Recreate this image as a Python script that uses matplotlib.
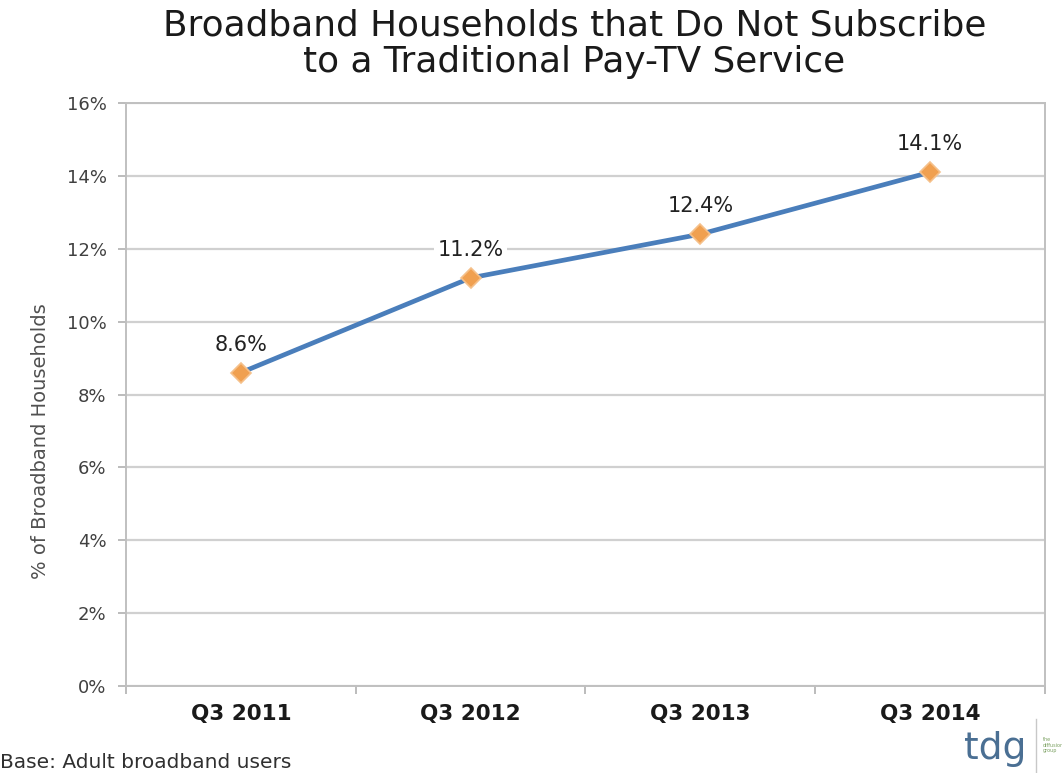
import matplotlib.pyplot as plt
import numpy as np
from matplotlib.ticker import FixedLocator, PercentFormatter

quarters = ["Q3 2011", "Q3 2012", "Q3 2013", "Q3 2014"]
share = [8.6, 11.2, 12.4, 14.1]
y_ticks = [0, 2, 4, 6, 8, 10, 12, 14, 16]

fig = plt.figure(figsize=(10.62, 7.73), dpi=100)
ax = fig.add_axes([0.1186, 0.1125, 0.8654, 0.7543])

x = np.arange(len(quarters))
ax.plot(x, share, color="#4a7ebb", lw=3.4, zorder=3,
        marker="D", markersize=10, markerfacecolor="#f0a050",
        markeredgecolor="#f5c08a", markeredgewidth=1.2)

for xi, v in zip(x, share):
    ax.annotate(f"{v:.1f}%", (xi, v), xytext=(0, 13), textcoords="offset points",
                ha="center", va="bottom", fontsize=15, color="#222222",
                bbox=dict(boxstyle="square,pad=0.15", fc="white", ec="none"),
                zorder=4)

ax.set_xlim(-0.5, 3.5)
ax.set_ylim(0, 16)
ax.set_yticks(y_ticks)
ax.yaxis.set_major_formatter(PercentFormatter(decimals=0))
ax.grid(axis="y", color="#d0d0d0", lw=1.6, zorder=0)
ax.set_axisbelow(True)

ax.set_xticks(x)
ax.set_xticklabels(quarters, fontsize=15.5, fontweight="bold", color="#1a1a1a")
ax.xaxis.set_minor_locator(FixedLocator([-0.5, 0.5, 1.5, 2.5, 3.5]))
ax.tick_params(axis="x", which="major", length=0, pad=13)
ax.tick_params(axis="x", which="minor", length=6, color="#b0b0b0", width=1.2)
ax.tick_params(axis="y", length=6, color="#b0b0b0", width=1.2,
               labelsize=13, labelcolor="#404040", pad=8)

for side in ["left", "bottom", "right", "top"]:
    ax.spines[side].set_color("#c0c0c0")
    ax.spines[side].set_linewidth(1.4)

ax.set_ylabel("% of Broadband Households", fontsize=14, color="#505050")
ax.yaxis.set_label_coords(-0.083, 0.42)

# title, two lines placed separately to keep them close together
fig.text(0.541, 1 - 26 / 773, "Broadband Households that Do Not Subscribe",
         ha="center", va="center", fontsize=25.8, color="#1a1a1a")
fig.text(0.541, 1 - 62 / 773, "to a Traditional Pay-TV Service",
         ha="center", va="center", fontsize=25.8, color="#1a1a1a")

fig.text(0.0, 1 - 762 / 773, "Base: Adult broadband users", fontsize=14.5, color="#303030",
         ha="left", va="center")

fig.text(0.937, 0.031, "tdg", fontsize=27, color="#4a6f93", ha="center", va="center")
fig.add_artist(plt.Line2D([0.9755, 0.9755], [0.0, 0.07], color="#c8c8c8", lw=1))
fig.text(0.982, 0.036, "the\ndiffusion\ngroup", fontsize=3.5, color="#7aa060",
         ha="left", va="center", linespacing=1.2)

fig.savefig("out.png", dpi=100)
